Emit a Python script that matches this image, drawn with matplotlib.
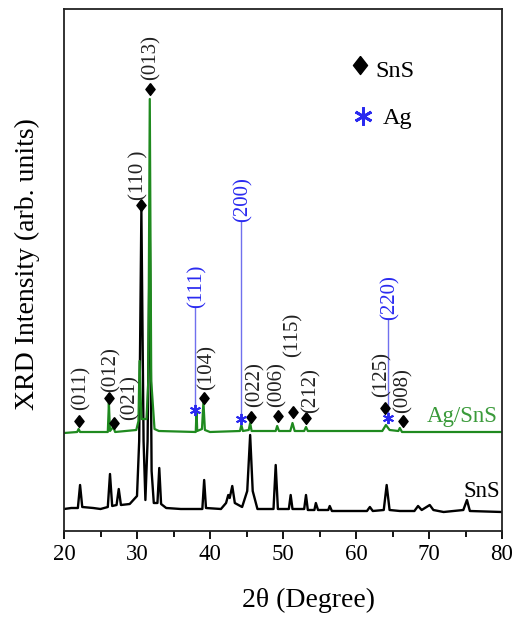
import numpy as np
import matplotlib
matplotlib.use("Agg")
import matplotlib.pyplot as plt

# 字型設定 (serif, 近似原圖)
plt.rcParams['font.family'] = ['Liberation Serif', 'DejaVu Serif']

# SnS 曲線 (2θ, 強度) - 頂點
sns_2theta = [20.0, 21.0, 21.9, 22.2, 22.5, 24.0, 25.0, 26.0, 26.3, 26.6, 27.2, 27.5, 27.8,
              29.0, 30.0, 30.3, 30.6, 30.9, 31.15, 31.45, 31.75, 32.0, 32.3, 32.8, 33.05,
              33.3, 34.0, 36.0, 38.95, 39.2, 39.45, 41.5, 42.2, 42.5, 42.7, 43.05, 43.4, 44.4,
              45.1, 45.5, 45.85, 46.5, 48.7, 49.0, 49.3, 50.8, 51.05, 51.3, 52.9, 53.15,
              53.4, 54.3, 54.5, 54.8, 56.2, 56.4, 56.7, 61.5, 61.9, 62.3, 63.8, 64.2,
              64.6, 66.0, 68.0, 68.5, 69.0, 70.1, 70.6, 72.0, 74.7, 75.2, 75.6, 80.0]
sns_int = [22, 23, 23, 46, 24, 23, 22, 24, 57, 25, 26, 42, 26,
           27, 35, 90, 321, 90, 31, 90, 300, 60, 28, 28, 63,
           27, 23, 22, 22, 51, 23, 22, 28, 36, 33, 45, 28, 24,
           40, 96, 40, 22, 22, 66, 22, 22, 36, 22, 22, 36,
           21, 21, 28, 21, 21, 25, 20, 20, 24, 20, 21, 46,
           21, 20, 20, 25, 21, 26, 21, 19, 21, 31, 20, 19]

# Ag/SnS 曲線
agsns_2theta = [20.0, 21.8, 22.0, 22.2, 26.0, 26.15, 26.3, 26.75, 27.0, 29.9, 30.2, 30.35,
                30.6, 31.3, 31.55, 31.75, 31.95, 32.4, 33.0, 38.05, 38.15, 38.25, 38.9, 39.1, 39.3,
                40.0, 44.1, 44.3, 44.5, 45.3, 45.5, 45.7, 49.0, 49.2, 49.45, 51.0, 51.3,
                51.6, 52.9, 53.15, 53.4, 63.6, 64.1, 64.6, 65.8, 66.0, 66.3, 80.0]
agsns_int = [98, 99, 102, 99, 99, 128, 100, 104, 99, 101, 110, 170,
             112, 112, 150, 432, 150, 102, 100, 99, 121, 100, 102, 129, 101,
             99, 100, 106, 100, 101, 108, 100, 100, 105, 100, 100, 108,
             100, 100, 104, 100, 100, 106, 101, 100, 103, 99, 99]

# SnS 峰 (菱形標記) 及標籤
sns_mark_x = [22.0, 26.1, 26.8, 30.6, 31.8, 39.2, 45.6, 49.3, 51.4, 53.1, 64.0, 66.5]
sns_mark_y = [110, 133, 108, 326, 442, 133, 114, 115, 119, 113, 123, 110]
sns_hkl = ['(011)', '(012)', '(021)', '(110 )', '(013)', '(104)', '(022)', '(006)',
           '(115)', '(212)', '(125)', '(008)']
sns_lab_x = [22.3, 26.4, 29.0, 30.3, 31.9, 39.65, 46.2, 49.2, 51.4, 53.8, 63.5, 66.4]
sns_lab_y = [121, 139, 111, 331, 451, 141, 124, 124, 174, 118, 134, 118]

# Ag 峰 (星號標記) 及標籤
ag_mark_x = [38.0, 44.3, 64.4]
ag_mark_y = [121, 112, 113]
ag_hkl = ['(111)', '(200)', '(220)']
ag_line_top = [223, 309, 211]

GREEN = '#1f8a1f'
BLUE = '#2a2af0'
TXT = '#222222'

diamond = [(0, 1), (0.78, 0), (0, -1), (-0.78, 0), (0, 1)]

fig = plt.figure(figsize=(5.15, 6.19), dpi=100)
ax = fig.add_axes([64 / 515, 1 - 531 / 619, 438 / 515, 522 / 619])

ax.plot(sns_2theta, sns_int, color='black', lw=1.7)
ax.plot(agsns_2theta, agsns_int, color=GREEN, lw=1.6)

# Ag 標記線
for x, y0, y1 in zip(ag_mark_x, ag_mark_y, ag_line_top):
    ax.plot([x, x], [y0, y1], color='#7070ee', lw=1.0)

ax.plot(sns_mark_x, sns_mark_y, ls='none', marker=diamond, ms=8.5, color='black')
ax.plot(ag_mark_x, ag_mark_y, ls='none', marker=(6, 2, 0), ms=8, mew=1.4, color=BLUE)

for x, y, s in zip(sns_lab_x, sns_lab_y, sns_hkl):
    ax.text(x, y, s, rotation=90, ha='center', va='bottom', fontsize=15, color=TXT)
for x, y, s in zip(ag_mark_x, ag_line_top, ag_hkl):
    ax.text(x + 0.2, y, s, rotation=90, ha='center', va='bottom', fontsize=15, color=BLUE)

ax.text(79.45, 109, 'Ag/SnS', ha='right', va='baseline', fontsize=16.5, color='#3a9a3a')
ax.text(79.7, 34, 'SnS', ha='right', va='baseline', fontsize=16.5, color='black')

# 圖例 (手動)
ax.plot([0.676], [0.893], transform=ax.transAxes, marker=diamond, ms=13, color='black', ls='none')
ax.text(0.710, 0.870, 'SnS', transform=ax.transAxes, fontsize=17.5, va='baseline')
ax.plot([0.683], [0.795], transform=ax.transAxes, marker=(6, 2, 0), ms=13, mew=2, color=BLUE, ls='none')
ax.text(0.728, 0.780, 'Ag', transform=ax.transAxes, fontsize=17.5, va='baseline')

ax.set_xlim(20, 80)
ax.set_ylim(0, 522)
ax.set_yticks([])
ax.set_xticks([20, 30, 40, 50, 60, 70, 80])
ax.set_xticks([25, 35, 45, 55, 65, 75], minor=True)
ax.tick_params(axis='x', which='major', direction='out', length=6, width=1.3, labelsize=16.5, pad=3)
ax.tick_params(axis='x', which='minor', direction='out', length=4, width=1.3)
for sp in ax.spines.values():
    sp.set_linewidth(1.3)
    sp.set_color('#222222')

ax.set_xlabel('2θ (Degree)', fontsize=20)
ax.xaxis.set_label_coords(0.559, -0.108)
ax.set_ylabel('XRD Intensity (arb. units)', fontsize=20)
ax.yaxis.set_label_coords(-0.055, 0.511)

fig.savefig('out.png', dpi=100)
